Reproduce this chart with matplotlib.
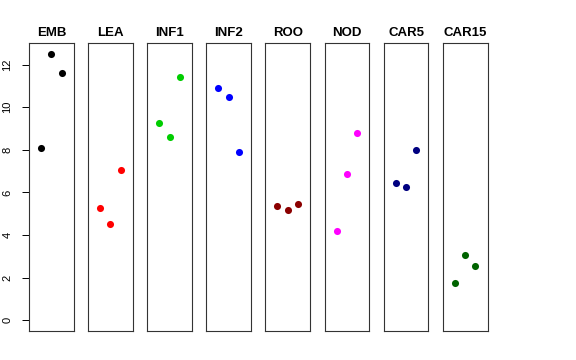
import numpy as np
import matplotlib.pyplot as plt

plt.rcParams['font.family'] = ['Liberation Sans', 'DejaVu Sans']

# Panel names and colours
groups = ['EMB', 'LEA', 'INF1', 'INF2', 'ROO', 'NOD', 'CAR5', 'CAR15']
colors = ['black', 'red', '#00CD00', 'blue', '#8B0000', 'magenta', '#000080', '#006400']

# Three values per group (replicates 1, 2, 3)
emb = [8.09, 12.50, 11.62]
lea = [5.26, 4.53, 7.05]
inf1 = [9.26, 8.61, 11.44]
inf2 = [10.91, 10.48, 7.91]
roo = [5.37, 5.19, 5.45]
nod = [4.20, 6.86, 8.77]
car5 = [6.44, 6.27, 8.00]
car15 = [1.73, 3.05, 2.55]
values = [emb, lea, inf1, inf2, roo, nod, car5, car15]
reps = [1, 2, 3]

W, H = 576, 360
fig = plt.figure(figsize=(W / 100, H / 100), dpi=100)

left0 = 29
step = 59.1
pw = 44.8
top = 43.3
bottom = 331
ylo, yhi = -0.5, 13.0

for i, (name, col, vals) in enumerate(zip(groups, colors, values)):
    x0 = left0 + i * step
    ax = fig.add_axes([x0 / W, 1 - bottom / H, pw / W, (bottom - top) / H])
    ax.scatter(reps, vals, color=col, s=26, zorder=3, linewidths=0)
    ax.set_xlim(-0.16, 4.16)
    ax.set_ylim(ylo, yhi)
    ax.set_xticks([])
    for sp in ax.spines.values():
        sp.set_linewidth(0.8)
        sp.set_color('#333333')
    ax.set_title(name, fontsize=9.5, fontweight='bold', pad=5)
    if i == 0:
        ax.set_yticks(np.arange(0, 13, 2))
        ax.tick_params(axis='y', length=5, width=0.7, labelsize=8, pad=7)
        for lbl in ax.get_yticklabels():
            lbl.set_rotation(90)
            lbl.set_va('center')
    else:
        ax.set_yticks([])

fig.savefig('out.png', dpi=100)
